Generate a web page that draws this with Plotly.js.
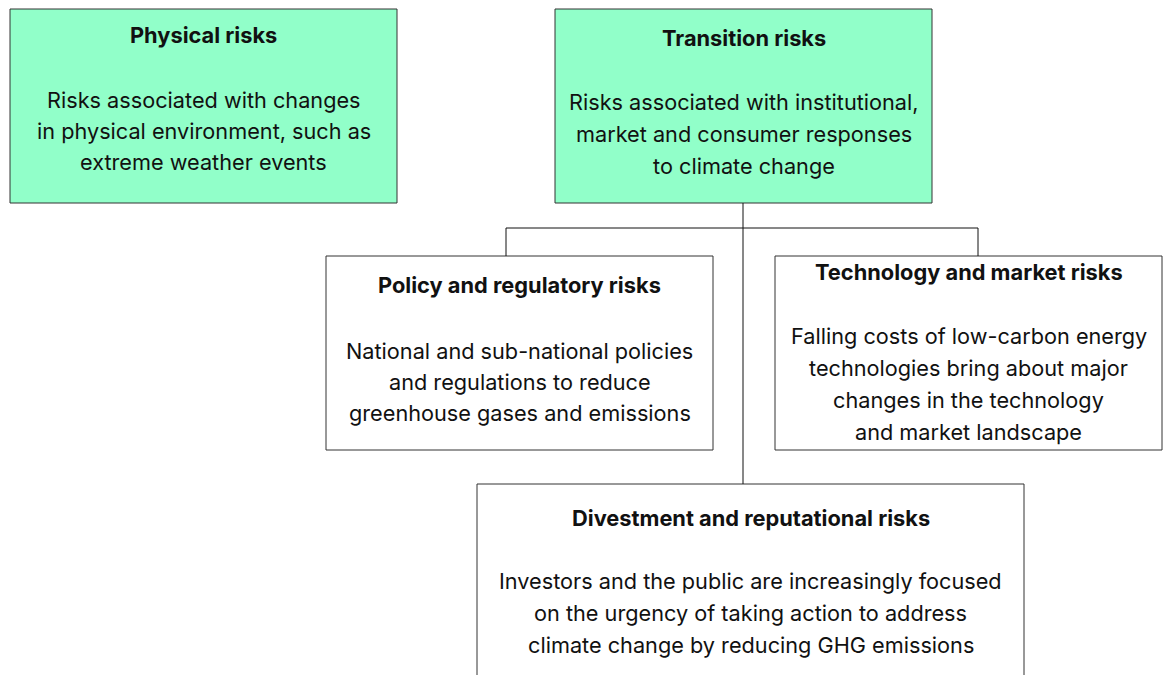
<!DOCTYPE html>
<html>
<head>
<meta charset="utf-8">
<script src="https://cdn.plot.ly/plotly-3.0.1.min.js"></script>
<style>html,body{margin:0;padding:0;background:#fff;}#chart{width:1163px;height:675px;}</style>
</head>
<body>
<div id="chart"></div>
<script>
// ---- Content ----
const boxTitles = [
  "Physical risks",
  "Transition risks",
  "Policy and regulatory risks",
  "Technology and market risks",
  "Divestment and reputational risks"
];
const boxLines = [
  ["Risks associated with changes", "in physical environment, such as", "extreme weather events"],
  ["Risks associated with institutional,", "market and consumer responses", "to climate change"],
  ["National and sub-national policies", "and regulations to reduce", "greenhouse gases and emissions"],
  ["Falling costs of low-carbon energy", "technologies bring about major", "changes in the technology", "and market landscape"],
  ["Investors and the public are increasingly focused", "on the urgency of taking action to address", "climate change by reducing GHG emissions"]
];
const boxHighlighted = [true, true, false, false, false];

// ---- Geometry (diagram layout, in pixel-like axis units) ----
const geom = [
  {x0: 10,  x1: 397,  y0: 9,   y1: 203, titleY: 35,  firstY: 100, dy: 31},
  {x0: 555, x1: 932,  y0: 9,   y1: 203, titleY: 38,  firstY: 102, dy: 32},
  {x0: 326, x1: 713,  y0: 256, y1: 450, titleY: 285, firstY: 351, dy: 31},
  {x0: 775, x1: 1162, y0: 256, y1: 450, titleY: 272, firstY: 336, dy: 32},
  {x0: 477, x1: 1024, y0: 484, y1: 700, titleY: 518, firstY: 581, dy: 32}
];
const connX = [743, 743, null, 506, 978, null, 506, 506, null, 978, 978];
const connY = [203, 484, null, 228, 228, null, 228, 256, null, 228, 256];

const FONT = "Inter, 'Noto Sans', Roboto, sans-serif";
const INK = "#111111";
const FILL = "#91FFC9";
const BORDER = "#333333";

const shapes = [];
const annotations = [];
boxTitles.forEach((t, i) => {
  const g = geom[i];
  shapes.push({
    type: "rect", xref: "x", yref: "y",
    x0: g.x0, x1: g.x1, y0: g.y0, y1: g.y1,
    line: {color: BORDER, width: 1},
    fillcolor: boxHighlighted[i] ? FILL : "#ffffff",
    layer: "below"
  });
  const cx = (g.x0 + g.x1) / 2;
  annotations.push({
    x: cx, y: g.titleY, xref: "x", yref: "y",
    text: "<b>" + t + "</b>", showarrow: false,
    xanchor: "center", yanchor: "middle",
    font: {family: FONT, size: 21.8, color: INK}
  });
  boxLines[i].forEach((ln, j) => {
    annotations.push({
      x: cx, y: g.firstY + j * g.dy, xref: "x", yref: "y",
      text: ln, showarrow: false,
      xanchor: "center", yanchor: "middle",
      font: {family: FONT, size: 21.7, color: INK}
    });
  });
});

const traces = [{
  type: "scatter", mode: "lines",
  x: connX, y: connY,
  line: {color: INK, width: 1},
  hoverinfo: "skip", showlegend: false
}];

const layout = {
  width: 1163, height: 675,
  margin: {l: 0, r: 0, t: 0, b: 0},
  paper_bgcolor: "#ffffff", plot_bgcolor: "#ffffff",
  xaxis: {range: [0, 1163], visible: false, fixedrange: true},
  yaxis: {range: [675, 0], visible: false, fixedrange: true},
  shapes: shapes,
  annotations: annotations,
  showlegend: false
};

Plotly.newPlot("chart", traces, layout, {staticPlot: true, displayModeBar: false});
</script>
</body>
</html>
